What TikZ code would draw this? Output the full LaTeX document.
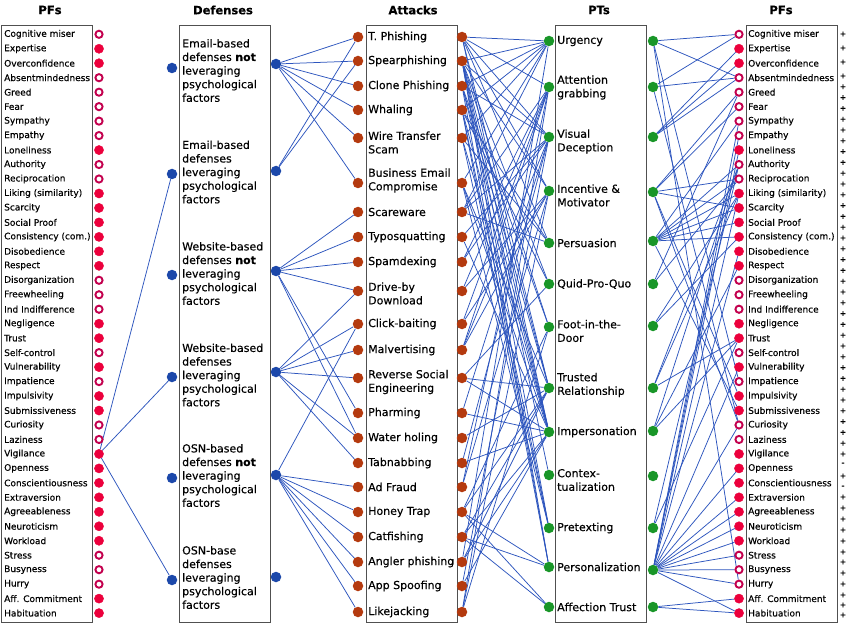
\documentclass[tikz,border=0pt]{standalone}
\usepackage{fontspec}
\setmainfont{DejaVu Sans}[FakeBold=0.35]
\definecolor{lineblue}{RGB}{45,85,190}
\definecolor{defblue}{RGB}{28,72,170}
\definecolor{attred}{RGB}{180,58,15}
\definecolor{ptgreen}{RGB}{25,150,40}
\definecolor{pfred}{RGB}{236,0,60}
\definecolor{pfdark}{RGB}{195,0,78}
\definecolor{boxgray}{RGB}{80,80,80}
\pgfdeclarelayer{paper}
\pgfdeclarelayer{bg}
\pgfsetlayers{paper,bg,main}
\begin{document}
\begin{tikzpicture}[x=1pt,y=-1pt,
  box/.style={draw=boxgray, line width=0.9pt},
  ttl/.style={font=\fontsize{11.5}{13}\selectfont\bfseries},
  pftxt/.style={anchor=west, inner sep=0pt, font=\fontsize{9}{10}\selectfont},
  bigtxt/.style={anchor=west, inner sep=0pt, align=left, font=\fontsize{11}{13.6}\selectfont},
  pff/.style={circle, fill=pfred, draw=pfred, minimum size=9.2pt, inner sep=0pt},
  pfh/.style={circle, fill=white, draw=pfdark, line width=1.9pt, minimum size=7.2pt, inner sep=0pt},
  ddot/.style={circle, fill=defblue, minimum size=10.5pt, inner sep=0pt},
  adot/.style={circle, fill=attred, minimum size=10.5pt, inner sep=0pt},
  pdot/.style={circle, fill=ptgreen, minimum size=10.5pt, inner sep=0pt},
  pm/.style={inner sep=0pt, font=\fontsize{7.5}{8}\selectfont\bfseries},
  conn/.style={draw=lineblue, line width=0.75pt}
]
\useasboundingbox (0,0) rectangle (850,628);
\begin{pgfonlayer}{paper}
\fill[white] (0,0) rectangle (850,628);
\end{pgfonlayer}

% titles
\node[ttl] (tpf1) at (50,10) {PFs};
\node[ttl] (tdef) at (223,10) {Defenses};
\node[ttl] (tatt) at (413,10) {Attacks};
\node[ttl] (tpt) at (599,10) {PTs};
\node[ttl] (tpf2) at (781,10) {PFs};

% boxes
\draw[box] (1.5,25.5) rectangle (92,622.5);
\draw[box] (179,25.5) rectangle (270,622.5);
\draw[box] (366,25.5) rectangle (457,622.5);
\draw[box] (555,25.5) rectangle (646,622.5);
\draw[box] (746,25.5) rectangle (837,622.5);

% PF rows (left and right)
\foreach \t/\f [count=\i] in {Cognitive miser/0, Expertise/1, Overconfidence/1, Absentmindedness/0, Greed/0, Fear/0, Sympathy/0, Empathy/0, Loneliness/1, Authority/0, Reciprocation/0, Liking (similarity)/1, Scarcity/1, Social Proof/1, Consistency (com.)/1, Disobedience/1, Respect/1, Disorganization/0, Freewheeling/0, Ind Indifference/0, Negligence/1, Trust/1, Self-control/0, Vulnerability/1, Impatience/0, Impulsivity/1, Submissiveness/1, Curiosity/0, Laziness/0, Vigilance/1, Openness/1, Conscientiousness/1, Extraversion/1, Agreeableness/1, Neuroticism/1, Workload/1, Stress/0, Busyness/0, Hurry/0, Aff. Commitment/1, Habituation/1}{
  \pgfmathsetmacro\yy{34.3+(\i-1)*14.47}
  \node[pftxt] (lt\i) at (4,\yy) {\t};
  \node[pftxt] (rt\i) at (748,\yy) {\t};
  \ifnum\f=1
    \node[pff] (lc\i) at (99,\yy) {};
    \node[pff] (rc\i) at (739,\yy) {};
  \else
    \node[pfh] (lc\i) at (99,\yy) {};
    \node[pfh] (rc\i) at (739,\yy) {};
  \fi
}

% plus / minus column
\foreach \y [count=\i] in {34,48,62,76,86.8,97.6,108.4,119.2,130,140.8,151.6,162.4,173.2,184,194.8,205.6,216.4,227.2,238,248.8,259.6,270.4,281.2,292,302.8,313.6,324.4,335.2,346,356.8,367.6,378.4,389.2,400,410.8,421.6,432.4,443.2,454,476,497,508,519,530,541,552,562,573,584,595,605,615}
  \node[pm] (plus\i) at (843,\y) {+};
\node[pm] (minus1) at (843,464) {-};
\node[pm] (minus2) at (843,487) {-};

% defenses
\node[bigtxt] (d1) at (182,70.5) {Email-based\\defenses \textbf{not}\\leveraging\\psychological\\factors};
\node[bigtxt] (d2) at (182,172) {Email-based\\defenses\\leveraging\\psychological\\factors};
\node[bigtxt] (d3) at (182,273.5) {Website-based\\defenses \textbf{not}\\leveraging\\psychological\\factors};
\node[bigtxt] (d4) at (182,375) {Website-based\\defenses\\leveraging\\psychological\\factors};
\node[bigtxt] (d5) at (182,475.5) {OSN-based\\defenses \textbf{not}\\leveraging\\psychological\\factors};
\node[bigtxt] (d6) at (182,577.5) {OSN-base\\defenses\\leveraging\\psychological\\factors};
\foreach \l/\r [count=\i] in {68/64, 174/171, 275/271, 377/372, 478/475, 580/577}{
  \node[ddot] (dl\i) at (172,\l) {};
  \node[ddot] (dr\i) at (276,\r) {};
}

% attacks
\foreach \d/\y/\t [count=\i] in {37/37/T. Phishing, 61/61/Spearphishing, 86/86/Clone Phishing, 110/110/Whaling, 138/142.5/Wire Transfer\\Scam, 183/180.5/Business Email\\Compromise, 212/212/Scareware, 237/237/Typosquatting, 262/262/Spamdexing, 291/293.5/Drive-by\\Download, 324/324/Click-baiting, 350/350/Malvertising, 378/382/Reverse Social\\Engineering, 413/413/Pharming, 438/438/Water holing, 463/463/Tabnabbing, 487/487/Ad Fraud, 512/512/Honey Trap, 537/537/Catfishing, 562/562/Angler phishing, 586/586/App Spoofing, 612/612/Likejacking}{
  \node[bigtxt] (at\i) at (368,\y) {\t};
  \node[adot] (al\i) at (358,\d) {};
  \node[adot] (ar\i) at (462,\d) {};
}

% PTs
\foreach \d/\r/\y/\t [count=\i] in {41/41/41/Urgency, 87/87/87.5/Attention\\grabbing, 137/137/141.5/Visual\\Deception, 191/192/195.5/Incentive \&\\Motivator, 243/241/243/Persuasion, 284/284/284/Quid-Pro-Quo, 327/326/331/Foot-in-the-\\Door, 388/388/385/Trusted\\Relationship, 432/431/432/Impersonation, 475/476/480/Contex-\\tualization, 528/528/528/Pretexting, 567/570/567/Personalization, 607/607/607/Affection Trust}{
  \node[bigtxt] (pt\i) at (557,\y) {\t};
  \node[pdot] (pl\i) at (549,\d) {};
  \node[pdot] (pr\i) at (653,\r) {};
}

% connectors
\begin{pgfonlayer}{bg}
\foreach \a/\b in {lc30/dl2, lc30/dl4, lc30/dl6}
  \draw[conn] (\a) -- (\b);
\foreach \a/\b in {dr1/al1, dr1/al2, dr1/al3, dr1/al4, dr1/al5, dr1/al6,
  dr2/al1, dr2/al2,
  dr3/al7, dr3/al8, dr3/al9, dr3/al10, dr3/al14, dr3/al15,
  dr4/al10, dr4/al11, dr4/al12, dr4/al13, dr4/al15, dr4/al16,
  dr5/al11, dr5/al17, dr5/al18, dr5/al19, dr5/al20, dr5/al21, dr5/al22}
  \draw[conn] (\a) -- (\b);
\foreach \a/\b in {ar1/pl1, ar1/pl2, ar1/pl3, ar1/pl4, ar1/pl5, ar1/pl8, ar1/pl9,
  ar2/pl1, ar2/pl3, ar2/pl4, ar2/pl6, ar2/pl7, ar2/pl8, ar2/pl9, ar2/pl10, ar2/pl11, ar2/pl12,
  ar3/pl1, ar3/pl3, ar3/pl7, ar3/pl8, ar3/pl9, ar3/pl12,
  ar4/pl1, ar4/pl5, ar4/pl6, ar4/pl9, ar4/pl11, ar4/pl12,
  ar5/pl1, ar5/pl5, ar5/pl9, ar5/pl11,
  ar6/pl1, ar6/pl8, ar6/pl9, ar6/pl11,
  ar7/pl1, ar7/pl2, ar7/pl3, ar7/pl5,
  ar8/pl3, ar8/pl9, ar9/pl2, ar9/pl3, ar10/pl2, ar10/pl4,
  ar11/pl2, ar11/pl4, ar12/pl2, ar12/pl3, ar12/pl4,
  ar13/pl6, ar13/pl8, ar13/pl9, ar14/pl3, ar14/pl9, ar15/pl8,
  ar16/pl3, ar16/pl9, ar17/pl2, ar17/pl4,
  ar18/pl7, ar18/pl8, ar18/pl12, ar18/pl13,
  ar19/pl8, ar19/pl9, ar19/pl12, ar19/pl13,
  ar20/pl1, ar20/pl8, ar20/pl9, ar21/pl3, ar21/pl9,
  ar22/pl2, ar22/pl4, ar22/pl7}
  \draw[conn] (\a) -- (\b);
\foreach \a/\b in {pr1/rc1, pr1/rc4, pr1/rc25, pr1/rc39,
  pr2/rc1, pr2/rc4, pr2/rc28,
  pr3/rc2, pr3/rc3, pr3/rc4,
  pr4/rc5, pr4/rc6, pr4/rc11, pr4/rc13, pr4/rc26, pr4/rc28,
  pr5/rc7, pr5/rc10, pr5/rc11, pr5/rc12, pr5/rc13, pr5/rc14, pr5/rc15, pr5/rc27,
  pr6/rc5, pr6/rc11, pr7/rc12, pr7/rc15,
  pr8/rc10, pr8/rc12, pr8/rc22,
  pr9/rc10, pr9/rc17, pr9/rc22,
  pr11/rc10, pr11/rc22,
  pr12/rc7, pr12/rc8, pr12/rc9, pr12/rc12, pr12/rc16, pr12/rc24, pr12/rc28, pr12/rc31, pr12/rc33, pr12/rc34, pr12/rc35, pr12/rc36, pr12/rc37, pr12/rc38, pr12/rc39, pr12/rc41,
  pr13/rc40, pr13/rc41}
  \draw[conn] (\a) -- (\b);
\end{pgfonlayer}
\end{tikzpicture}
\end{document}
